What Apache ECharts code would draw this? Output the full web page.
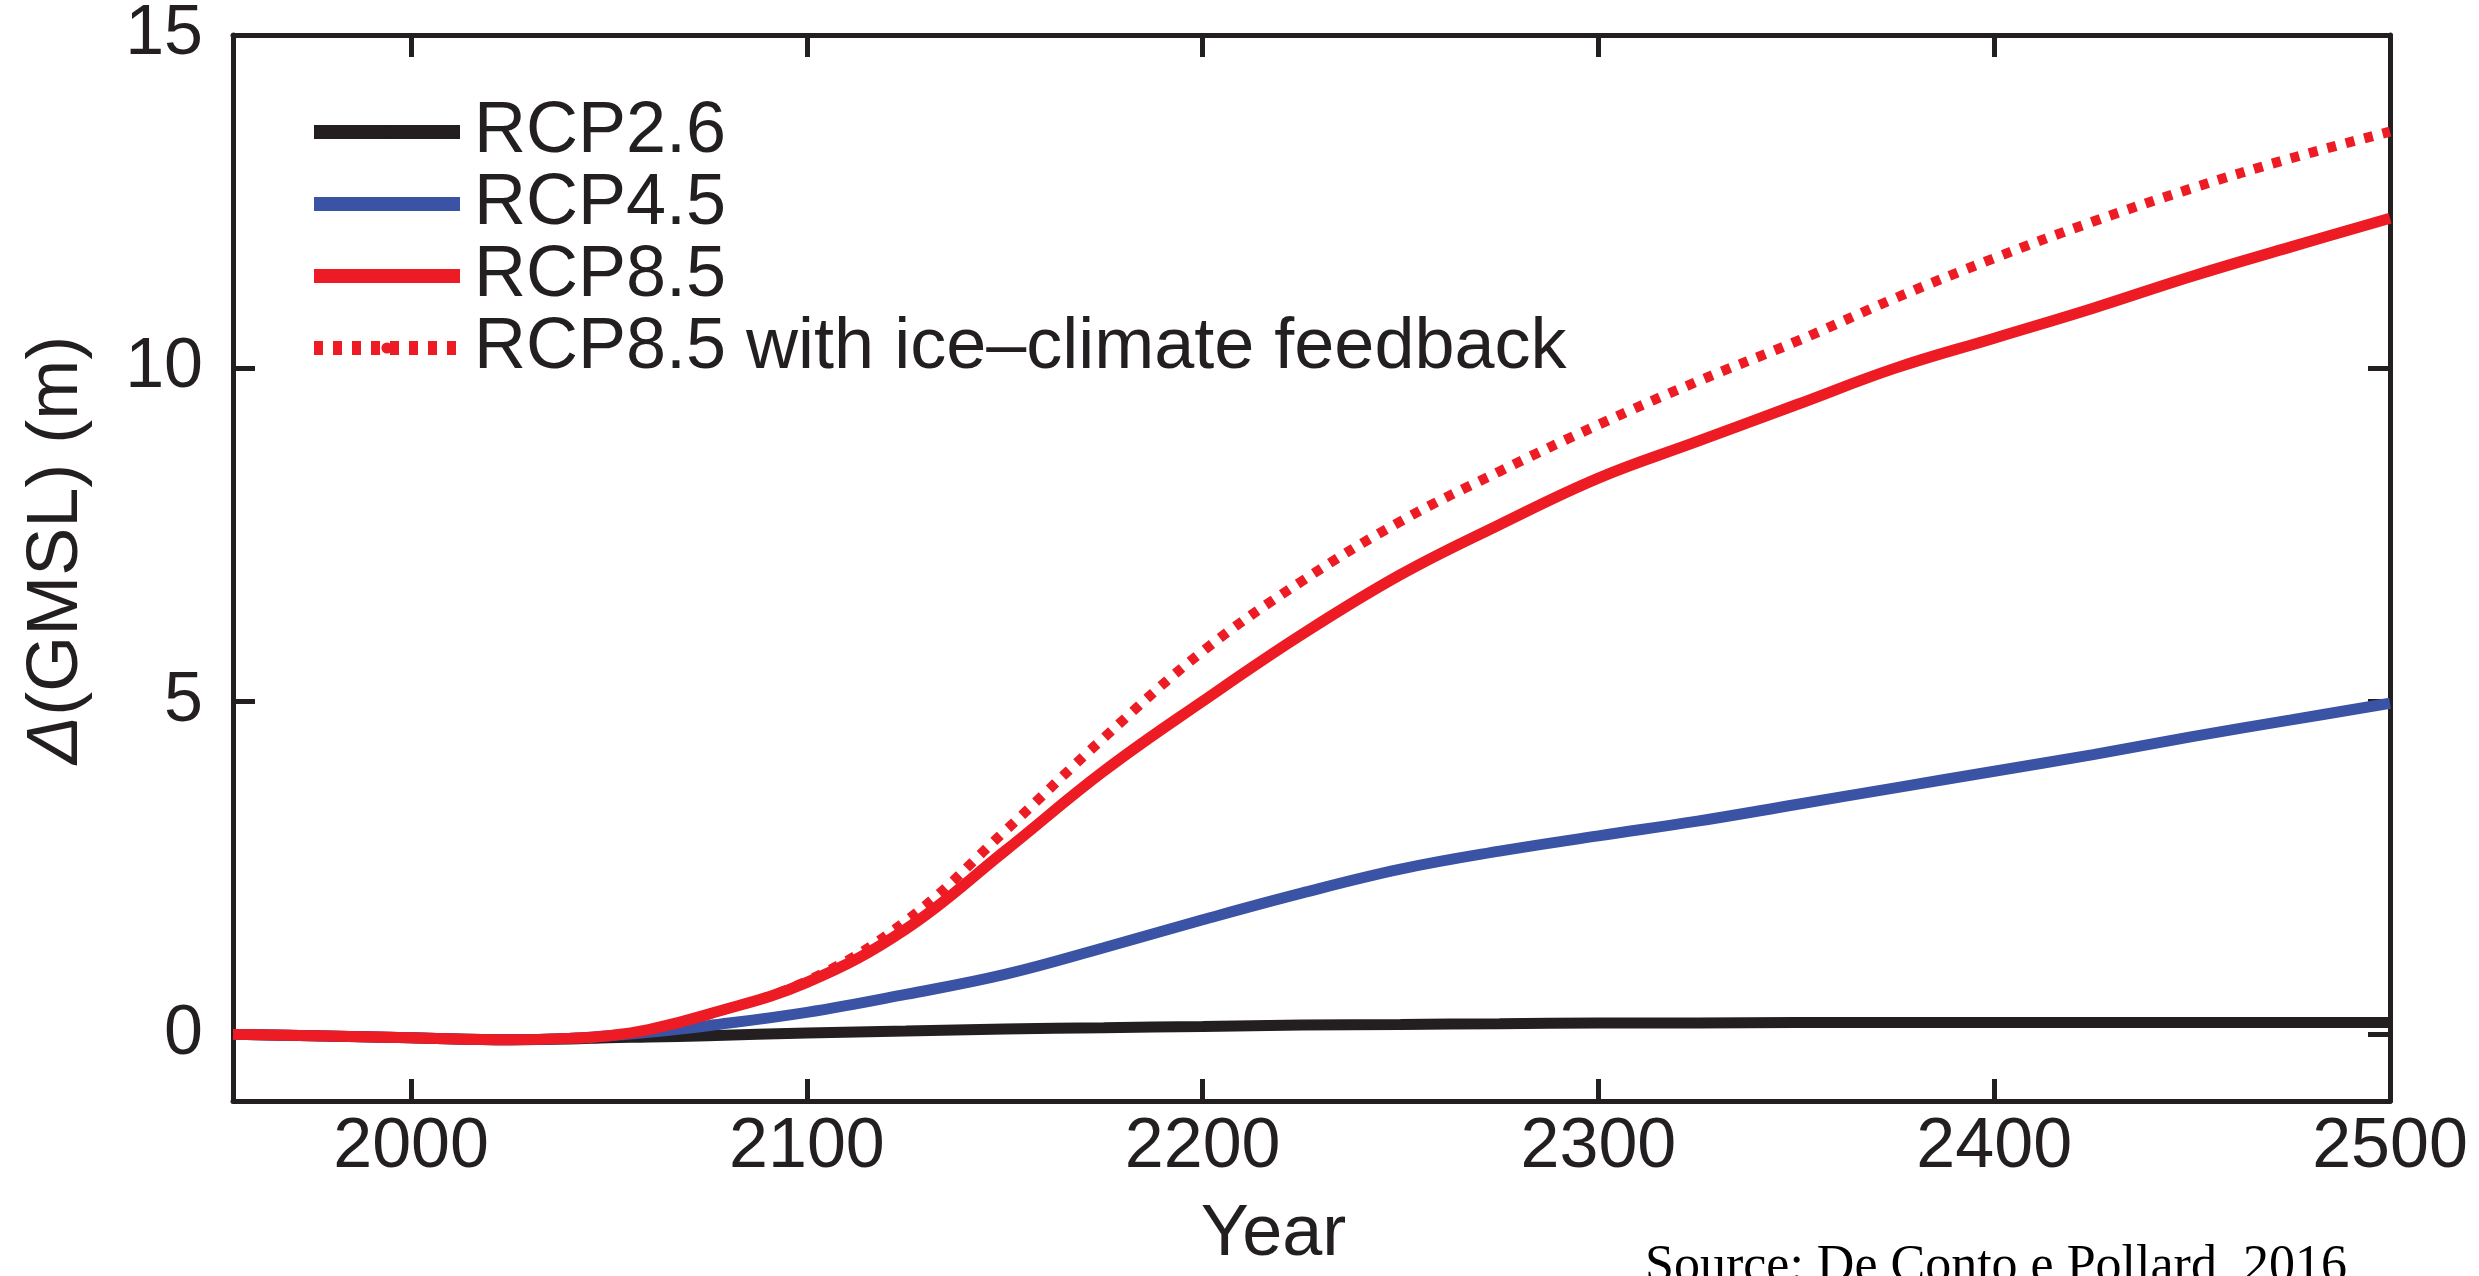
<!DOCTYPE html>
<html>
<head>
<meta charset="utf-8">
<script src="https://cdn.jsdelivr.net/npm/echarts@6/dist/echarts.min.js"></script>
<style>
html,body{margin:0;padding:0;background:#fff;}
#chart{width:2479px;height:1276px;}
</style>
</head>
<body>
<div id="chart"></div>
<script>
// ---- data ----
const years  = [1955, 1975, 2000, 2025, 2040, 2050, 2060, 2075, 2100, 2125, 2150, 2175, 2200, 2225, 2250, 2275, 2300, 2325, 2350, 2375, 2400, 2425, 2450, 2475, 2500];
const rcp26  = [0, -0.02, -0.05, -0.08, -0.07, -0.05, -0.04, -0.02, 0.02, 0.05, 0.08, 0.10, 0.12, 0.14, 0.15, 0.16, 0.17, 0.17, 0.18, 0.18, 0.18, 0.18, 0.18, 0.18, 0.18];
const rcp45  = [0, -0.02, -0.05, -0.08, -0.06, -0.02, 0.03, 0.13, 0.33, 0.60, 0.90, 1.30, 1.72, 2.12, 2.48, 2.75, 2.98, 3.20, 3.45, 3.70, 3.95, 4.20, 4.47, 4.72, 4.97];
const rcp85  = [0, -0.02, -0.05, -0.08, -0.06, -0.02, 0.07, 0.30, 0.78, 1.58, 2.75, 3.95, 5.00, 6.00, 6.90, 7.65, 8.35, 8.90, 9.45, 10.00, 10.45, 10.90, 11.38, 11.82, 12.25];
const rcp85fb= [0, -0.02, -0.05, -0.08, -0.06, -0.02, 0.07, 0.30, 0.80, 1.70, 3.05, 4.45, 5.75, 6.80, 7.70, 8.45, 9.15, 9.80, 10.40, 11.05, 11.65, 12.20, 12.70, 13.15, 13.55];
const seriesNames = ['RCP2.6', 'RCP4.5', 'RCP8.5', 'RCP8.5 with ice\u2013climate feedback'];
const xTicks = [2000, 2100, 2200, 2300, 2400, 2500];
const yTicks = [0, 5, 10, 15];
const xName = 'Year';
const yName = '{d|\u0394}(GMSL) (m)';
const sourceText = 'Source: De Conto e Pollard, 2016';

const pair = arr => years.map((y, i) => [y, arr[i]]);

const AX = '#231f20';
const FONT = '"Liberation Sans", Arial, Helvetica, sans-serif';
const mkLine = () => ({show: true, onZero: false, lineStyle: {color: AX, width: 5}});
const mkTick = () => ({show: true, inside: true, length: 22, lineStyle: {color: AX, width: 5}});
const onlyTicks = vals => (v => vals.indexOf(Math.round(v * 1000) / 1000) >= 0 ? String(Math.round(v)) : '');

const chart = echarts.init(document.getElementById('chart'), null, {renderer: 'canvas'});
chart.setOption({
  animation: false,
  backgroundColor: '#ffffff',
  grid: {left: 233, right: 89, top: 28, bottom: 163},
  legend: {
    orient: 'vertical', left: 307, top: 96, padding: 0,
    itemWidth: 146, itemHeight: 14, itemGap: 0,
    selectedMode: false,
    lineStyle: {width: 14},
    textStyle: {fontSize: 72, lineHeight: 68, color: AX, fontFamily: FONT, padding: [0, 0, 0, 9]},
    data: seriesNames
  },
  xAxis: [{
    type: 'value', min: 1955, max: 2500, splitNumber: 5, position: 'bottom',
    axisLine: mkLine(), axisTick: mkTick(), splitLine: {show: false},
    axisLabel: {fontSize: 70, color: AX, margin: 12, fontFamily: FONT, formatter: onlyTicks(xTicks)},
    name: xName, nameLocation: 'middle', nameGap: 98,
    nameTextStyle: {fontSize: 72, color: AX, fontFamily: FONT, padding: [0, 76, 0, 0]}
  }, {
    type: 'value', min: 1955, max: 2500, splitNumber: 5, position: 'top',
    axisLine: mkLine(), axisTick: mkTick(), splitLine: {show: false},
    axisLabel: {show: false}
  }],
  yAxis: [{
    type: 'value', min: -1, max: 15, splitNumber: 3, position: 'left',
    axisLine: mkLine(), axisTick: mkTick(), splitLine: {show: false},
    axisLabel: {fontSize: 70, color: AX, margin: 30, fontFamily: FONT, formatter: onlyTicks(yTicks)},
    name: yName, nameLocation: 'middle', nameGap: 140,
    nameTextStyle: {fontSize: 72, color: AX, fontFamily: FONT, padding: [0, 0, 0, 36],
      rich: {d: {fontSize: 72, fontStyle: 'italic', color: AX, fontFamily: FONT}}}
  }, {
    type: 'value', min: -1, max: 15, splitNumber: 3, position: 'right',
    axisLine: mkLine(), axisTick: mkTick(), splitLine: {show: false},
    axisLabel: {show: false}
  }],
  series: [
    {name: seriesNames[0], type: 'line', data: pair(rcp26), smooth: 0.4, symbol: 'none',
     lineStyle: {color: '#231f20', width: 11}, itemStyle: {color: '#231f20'}},
    {name: seriesNames[1], type: 'line', data: pair(rcp45), smooth: 0.4, symbol: 'none',
     lineStyle: {color: '#3a53a4', width: 11}, itemStyle: {color: '#3a53a4'}},
    {name: seriesNames[2], type: 'line', data: pair(rcp85), smooth: 0.4, symbol: 'none',
     lineStyle: {color: '#ed1c24', width: 11}, itemStyle: {color: '#ed1c24'}},
    {name: seriesNames[3], type: 'line', data: pair(rcp85fb), smooth: 0.4, symbol: 'none',
     lineStyle: {color: '#ed1c24', width: 10, type: [9, 10]}, itemStyle: {color: '#ed1c24'}}
  ],
  graphic: [{
    type: 'text', left: 1645, top: 1241,
    style: {text: sourceText, font: '52px "Liberation Serif", "Times New Roman", serif', fill: '#000'}
  }]
});
</script>
</body>
</html>
